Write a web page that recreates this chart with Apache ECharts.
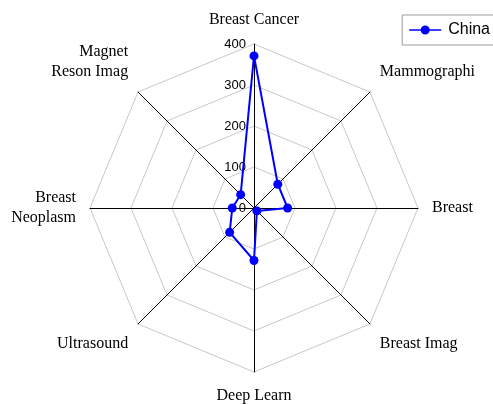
<!DOCTYPE html>
<html>
<head>
<meta charset="utf-8">
<script src="https://cdn.jsdelivr.net/npm/echarts@6/dist/echarts.min.js"></script>
<style>
  html, body { margin: 0; padding: 0; background: #fff; }
  #chart { width: 493px; height: 404px; }
</style>
</head>
<body>
<div id="chart"></div>
<script>
  // indicators in ECharts order (counter-clockwise from the top)
  var indicatorNames = ['Breast Cancer', 'Magnet\nReson Imag', 'Breast\nNeoplasm', 'Ultrasound',
                        'Deep Learn', 'Breast Imag', 'Breast', 'Mammographi'];
  var chinaValues = [371, 46, 53, 84, 128, 10, 82, 82];
  var maxValue = 400;
  var radiusTicks = [0, 100, 200, 300, 400];

  var chart = echarts.init(document.getElementById('chart'));
  var center = [254, 208];
  var radius = 164;

  chart.setOption({
    animation: false,
    legend: {
      data: ['China'],
      right: -5,
      top: 15,
      itemWidth: 32,
      itemHeight: 10,
      itemGap: 4,
      padding: [7, 8, 7, 7],
      borderColor: '#999',
      borderWidth: 1,
      borderRadius: 0,
      icon: 'path://M0,4.2L32,4.2L32,5.8L0,5.8Z M11.5,5A4.5,4.5 0 1,1 20.5,5A4.5,4.5 0 1,1 11.5,5Z',
      itemStyle: { color: '#0000ff' },
      textStyle: { fontFamily: 'Arial, Liberation Sans', fontSize: 16, color: '#000', padding: [0, 0, 0, 2] }
    },
    radar: {
      center: center,
      radius: radius,
      shape: 'polygon',
      splitNumber: 4,
      nameGap: 14,
      axisName: {
        color: '#000',
        fontFamily: 'Times New Roman, Liberation Serif',
        fontSize: 16,
        lineHeight: 20,
        // blank lines push the diagonal names further off the corners
        formatter: function (name) {
          if (name === 'Mammographi') return name + '\n ';
          if (name === 'Magnet\nReson Imag') return name + '\n \n ';
          if (name === 'Ultrasound') return ' \n' + name;
          if (name === 'Breast Imag') return ' \n' + name;
          return name;
        }
      },
      indicator: indicatorNames.map(function (n) { return { name: n, min: 0, max: maxValue }; }),
      axisLine: { lineStyle: { color: '#000', width: 1 } },
      splitLine: { lineStyle: { color: '#c8c8c8', width: 1 } },
      splitArea: { show: false }
    },
    polar: { center: center, radius: radius },
    angleAxis: { show: false, min: 0, max: 360 },
    radiusAxis: {
      min: 0,
      max: maxValue,
      interval: 100,
      axisLine: { show: false },
      axisTick: { show: false },
      splitLine: { show: false },
      axisLabel: {
        color: '#000',
        fontFamily: 'Arial, Liberation Sans',
        fontSize: 13,
        align: 'right',
        margin: 4,
        padding: [0, 4, 0, 0],
        formatter: function (v) { return radiusTicks.indexOf(v) >= 0 ? String(v) : ''; }
      }
    },
    series: [{
      name: 'China',
      type: 'radar',
      symbol: 'circle',
      symbolSize: 9,
      itemStyle: { color: '#0000ff' },
      lineStyle: { color: '#0000ff', width: 2 },
      data: [{ value: chinaValues, name: 'China' }]
    }, {
      type: 'line',
      coordinateSystem: 'polar',
      data: []
    }]
  });
</script>
</body>
</html>
